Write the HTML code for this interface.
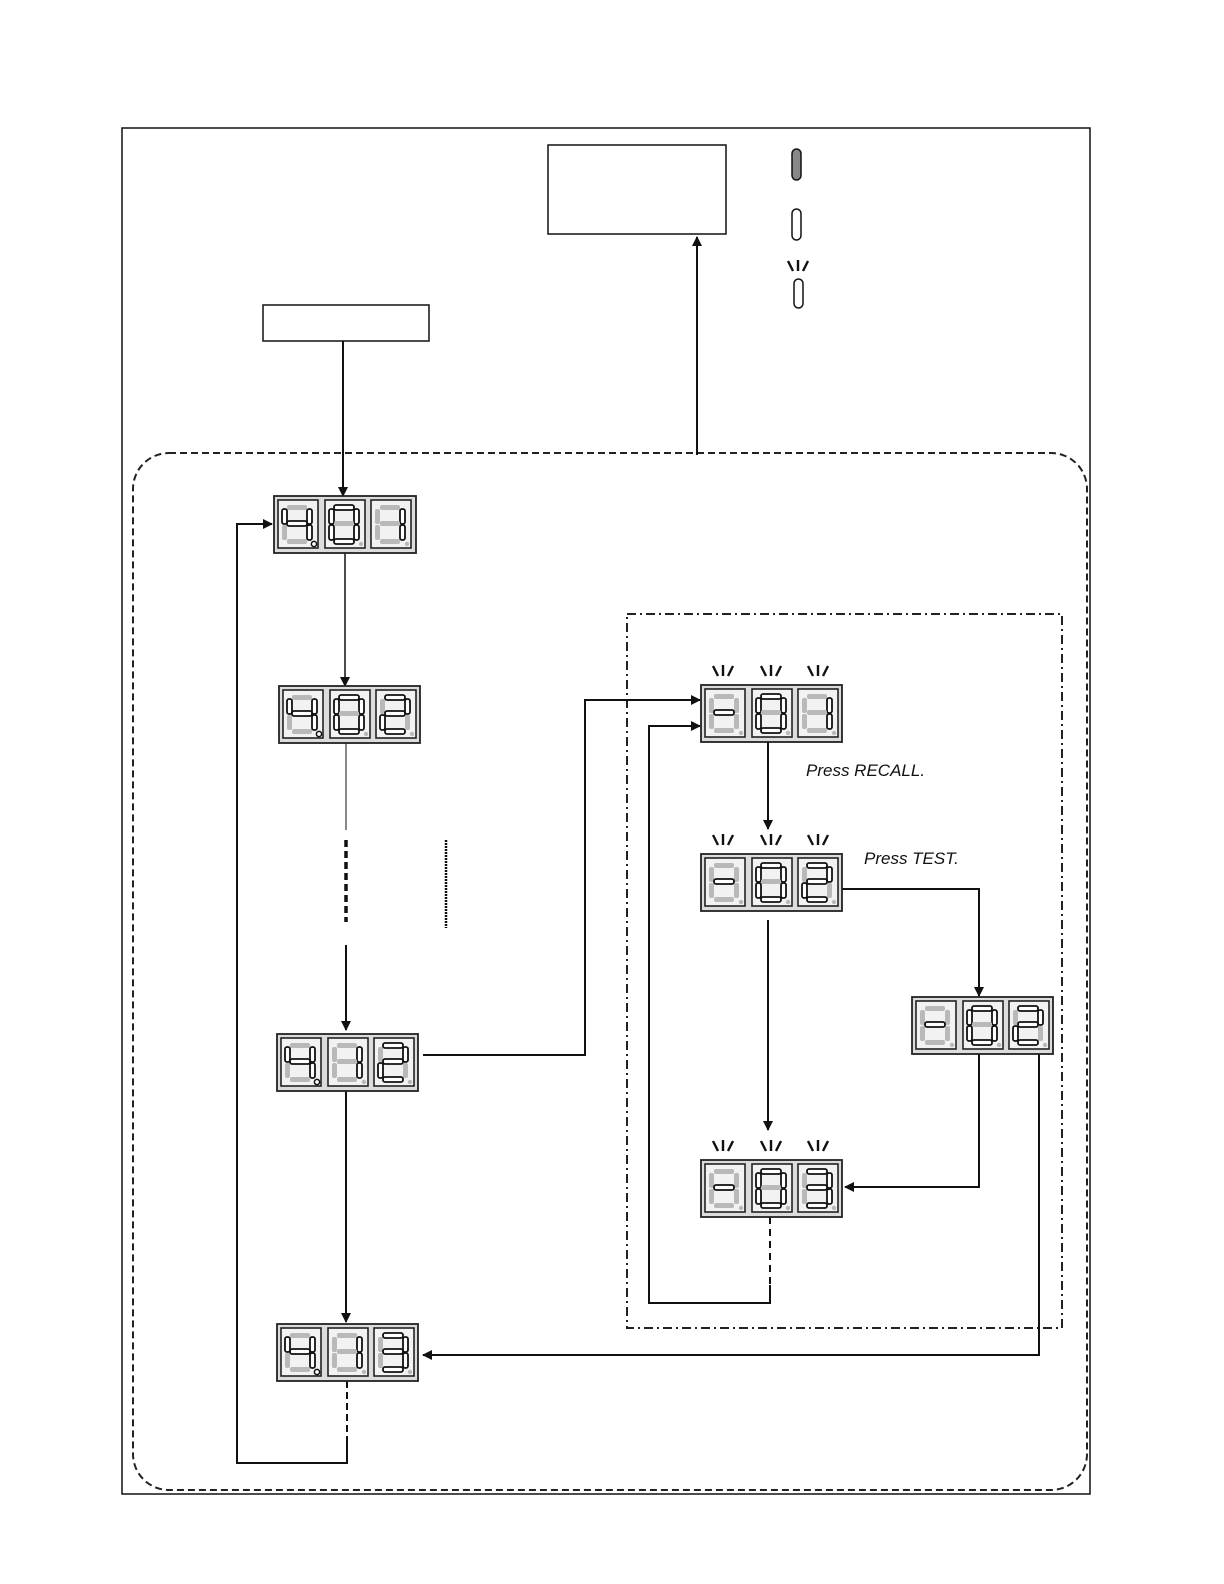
<!DOCTYPE html>
<html><head><meta charset="utf-8"><style>
html,body{margin:0;padding:0;background:#fff;overflow:hidden;width:1224px;height:1584px}
svg{display:block;position:absolute;left:0;top:0}
.o{fill:#b9b9b9}
.n{fill:#fff;stroke:#111;stroke-width:1.8}
.cell{fill:#f2f2f2;stroke:#222;stroke-width:1.6}
.disp{fill:#dcdcdc;stroke:#222;stroke-width:1.8}
.ln{fill:none;stroke:#111;stroke-width:2}
.bl{stroke:#111;stroke-width:2.4}
</style></head><body>
<svg width="1224" height="1584" viewBox="0 0 1224 1584" xmlns="http://www.w3.org/2000/svg">
<defs>
<marker id="ar" markerWidth="10" markerHeight="10" refX="9" refY="5" orient="auto" markerUnits="userSpaceOnUse">
<path d="M0,0 L10,5 L0,10 Z" fill="#111"/></marker>
<g id="cell"><rect class="cell" x="0" y="0" width="40" height="48"/></g>
<g id="d4"><use href="#cell"/><rect class="o" x="9" y="5" width="20" height="5" rx="2"/><rect class="n" x="29" y="9" width="5" height="15" rx="2"/><rect class="n" x="29" y="25" width="5" height="15" rx="2"/><rect class="o" x="9" y="39" width="20" height="5" rx="2"/><rect class="o" x="4" y="25" width="5" height="15" rx="2"/><rect class="n" x="4" y="9" width="5" height="15" rx="2"/><rect class="n" x="9" y="21" width="20" height="5" rx="2"/></g>
<g id="d0"><use href="#cell"/><rect class="n" x="9" y="5" width="20" height="5" rx="2"/><rect class="n" x="29" y="9" width="5" height="15" rx="2"/><rect class="n" x="29" y="25" width="5" height="15" rx="2"/><rect class="n" x="9" y="39" width="20" height="5" rx="2"/><rect class="n" x="4" y="25" width="5" height="15" rx="2"/><rect class="n" x="4" y="9" width="5" height="15" rx="2"/><rect class="o" x="9" y="21" width="20" height="5" rx="2"/><circle class="o" cx="36" cy="44" r="2.2"/></g>
<g id="d1"><use href="#cell"/><rect class="o" x="9" y="5" width="20" height="5" rx="2"/><rect class="n" x="29" y="9" width="5" height="15" rx="2"/><rect class="n" x="29" y="25" width="5" height="15" rx="2"/><rect class="o" x="9" y="39" width="20" height="5" rx="2"/><rect class="o" x="4" y="25" width="5" height="15" rx="2"/><rect class="o" x="4" y="9" width="5" height="15" rx="2"/><rect class="o" x="9" y="21" width="20" height="5" rx="2"/></g>
<g id="d2"><use href="#cell"/><rect class="n" x="9" y="5" width="20" height="5" rx="2"/><rect class="n" x="29" y="9" width="5" height="15" rx="2"/><rect class="o" x="29" y="25" width="5" height="15" rx="2"/><rect class="n" x="9" y="39" width="20" height="5" rx="2"/><rect class="n" x="4" y="25" width="5" height="15" rx="2"/><rect class="o" x="4" y="9" width="5" height="15" rx="2"/><rect class="n" x="9" y="21" width="20" height="5" rx="2"/><circle class="o" cx="36" cy="44" r="2.2"/></g>
<g id="d3"><use href="#cell"/><rect class="n" x="9" y="5" width="20" height="5" rx="2"/><rect class="n" x="29" y="9" width="5" height="15" rx="2"/><rect class="n" x="29" y="25" width="5" height="15" rx="2"/><rect class="n" x="9" y="39" width="20" height="5" rx="2"/><rect class="o" x="4" y="25" width="5" height="15" rx="2"/><rect class="o" x="4" y="9" width="5" height="15" rx="2"/><rect class="n" x="9" y="21" width="20" height="5" rx="2"/><circle class="o" cx="36" cy="44" r="2.2"/></g>
<g id="dm"><use href="#cell"/><rect class="o" x="9" y="5" width="20" height="5" rx="2"/><rect class="o" x="29" y="9" width="5" height="15" rx="2"/><rect class="o" x="29" y="25" width="5" height="15" rx="2"/><rect class="o" x="9" y="39" width="20" height="5" rx="2"/><rect class="o" x="4" y="25" width="5" height="15" rx="2"/><rect class="o" x="4" y="9" width="5" height="15" rx="2"/><rect class="n" x="9" y="21" width="20" height="5" rx="2"/><circle class="o" cx="36" cy="44" r="2.2"/></g>
<g id="dot1"><circle cx="36" cy="44" r="2.6" fill="#fff" stroke="#111" stroke-width="1.5"/></g>
<g id="dot0"><circle class="o" cx="36" cy="44" r="2.2"/></g>
<g id="bk"><line class="bl" x1="-10" y1="-13" x2="-5" y2="-3"/><line class="bl" x1="0" y1="-14" x2="0" y2="-3"/><line class="bl" x1="10" y1="-13" x2="5" y2="-3"/></g>
</defs>

<rect x="122" y="128" width="968" height="1366" fill="none" stroke="#111" stroke-width="1.5"/>
<rect x="133" y="453" width="954" height="1037" rx="36" fill="none" stroke="#222" stroke-width="2" stroke-dasharray="7,4"/>
<rect x="627" y="614" width="435" height="714" fill="none" stroke="#222" stroke-width="2" stroke-dasharray="9,4,2,4"/>

<rect x="548" y="145" width="178" height="89" fill="#fff" stroke="#111" stroke-width="1.5"/>
<rect x="263" y="305" width="166" height="36" fill="#fff" stroke="#111" stroke-width="1.5"/>

<rect x="792" y="149" width="9" height="31" rx="4.5" fill="#888" stroke="#111" stroke-width="1.5"/>
<rect x="792" y="209" width="9" height="31" rx="4.5" fill="#fff" stroke="#111" stroke-width="1.5"/>
<rect x="794" y="279" width="9" height="29" rx="4.5" fill="#fff" stroke="#111" stroke-width="1.5"/>
<use href="#bk" x="798" y="274"/>

<line class="ln" x1="697" y1="455" x2="697" y2="237" marker-end="url(#ar)"/>
<line class="ln" x1="343" y1="341" x2="343" y2="496" marker-end="url(#ar)"/>
<line x1="345" y1="553" x2="345" y2="686" stroke="#111" stroke-width="1.5" marker-end="url(#ar)"/>
<line x1="346" y1="743" x2="346" y2="830" stroke="#111" stroke-width="1"/>
<line x1="346" y1="840" x2="346" y2="922" stroke="#111" stroke-width="3.5" stroke-dasharray="7,4"/>
<line x1="446" y1="840" x2="446" y2="928" stroke="#111" stroke-width="2.5" stroke-dasharray="2,1"/>
<line class="ln" x1="346" y1="945" x2="346" y2="1030" marker-end="url(#ar)"/>
<line class="ln" x1="346" y1="1091" x2="346" y2="1322" marker-end="url(#ar)"/>
<line x1="347" y1="1381" x2="347" y2="1440" stroke="#111" stroke-width="2" stroke-dasharray="7,4"/>
<polyline class="ln" points="347,1440 347,1463 237,1463 237,524 272,524" marker-end="url(#ar)"/>
<polyline class="ln" points="423,1055 585,1055 585,700 700,700" marker-end="url(#ar)"/>
<line class="ln" x1="768" y1="741" x2="768" y2="829" marker-end="url(#ar)"/>
<line class="ln" x1="768" y1="920" x2="768" y2="1130" marker-end="url(#ar)"/>
<polyline class="ln" points="842,889 979,889 979,996" marker-end="url(#ar)"/>
<polyline class="ln" points="979,1054 979,1187 845,1187" marker-end="url(#ar)"/>
<polyline class="ln" points="1039,1054 1039,1355 423,1355" marker-end="url(#ar)"/>
<line x1="770" y1="1217" x2="770" y2="1285" stroke="#111" stroke-width="2" stroke-dasharray="7,5"/>
<polyline class="ln" points="770,1285 770,1303 649,1303 649,726 700,726" marker-end="url(#ar)"/>

<g transform="translate(274,496)"><rect class="disp" x="0" y="0" width="142" height="57"/><use href="#d4" x="4" y="4"/><use href="#dot1" x="4" y="4"/><use href="#d0" x="51" y="4"/><use href="#d1" x="97" y="4"/><use href="#dot0" x="97" y="4"/></g>
<g transform="translate(279,686)"><rect class="disp" x="0" y="0" width="141" height="57"/><use href="#d4" x="4" y="4"/><use href="#dot1" x="4" y="4"/><use href="#d0" x="51" y="4"/><use href="#d2" x="97" y="4"/></g>
<g transform="translate(277,1034)"><rect class="disp" x="0" y="0" width="141" height="57"/><use href="#d4" x="4" y="4"/><use href="#dot1" x="4" y="4"/><use href="#d1" x="51" y="4"/><use href="#dot0" x="51" y="4"/><use href="#d2" x="97" y="4"/></g>
<g transform="translate(277,1324)"><rect class="disp" x="0" y="0" width="141" height="57"/><use href="#d4" x="4" y="4"/><use href="#dot1" x="4" y="4"/><use href="#d1" x="51" y="4"/><use href="#dot0" x="51" y="4"/><use href="#d3" x="97" y="4"/></g>

<g transform="translate(701,685)"><rect class="disp" x="0" y="0" width="141" height="57"/><use href="#dm" x="4" y="4"/><use href="#d0" x="51" y="4"/><use href="#d1" x="97" y="4"/><use href="#dot0" x="97" y="4"/><use href="#bk" x="22" y="-6"/><use href="#bk" x="70" y="-6"/><use href="#bk" x="117" y="-6"/></g>
<g transform="translate(701,854)"><rect class="disp" x="0" y="0" width="141" height="57"/><use href="#dm" x="4" y="4"/><use href="#d0" x="51" y="4"/><use href="#d2" x="97" y="4"/><use href="#bk" x="22" y="-6"/><use href="#bk" x="70" y="-6"/><use href="#bk" x="117" y="-6"/></g>
<g transform="translate(912,997)"><rect class="disp" x="0" y="0" width="141" height="57"/><use href="#dm" x="4" y="4"/><use href="#d0" x="51" y="4"/><use href="#d2" x="97" y="4"/></g>
<g transform="translate(701,1160)"><rect class="disp" x="0" y="0" width="141" height="57"/><use href="#dm" x="4" y="4"/><use href="#d0" x="51" y="4"/><use href="#d3" x="97" y="4"/><use href="#bk" x="22" y="-6"/><use href="#bk" x="70" y="-6"/><use href="#bk" x="117" y="-6"/></g>

<text x="806" y="776" font-family="Liberation Sans, sans-serif" font-style="italic" font-size="17" fill="#111">Press RECALL.</text>
<text x="864" y="864" font-family="Liberation Sans, sans-serif" font-style="italic" font-size="17" fill="#111">Press TEST.</text>
</svg>
</body></html>
